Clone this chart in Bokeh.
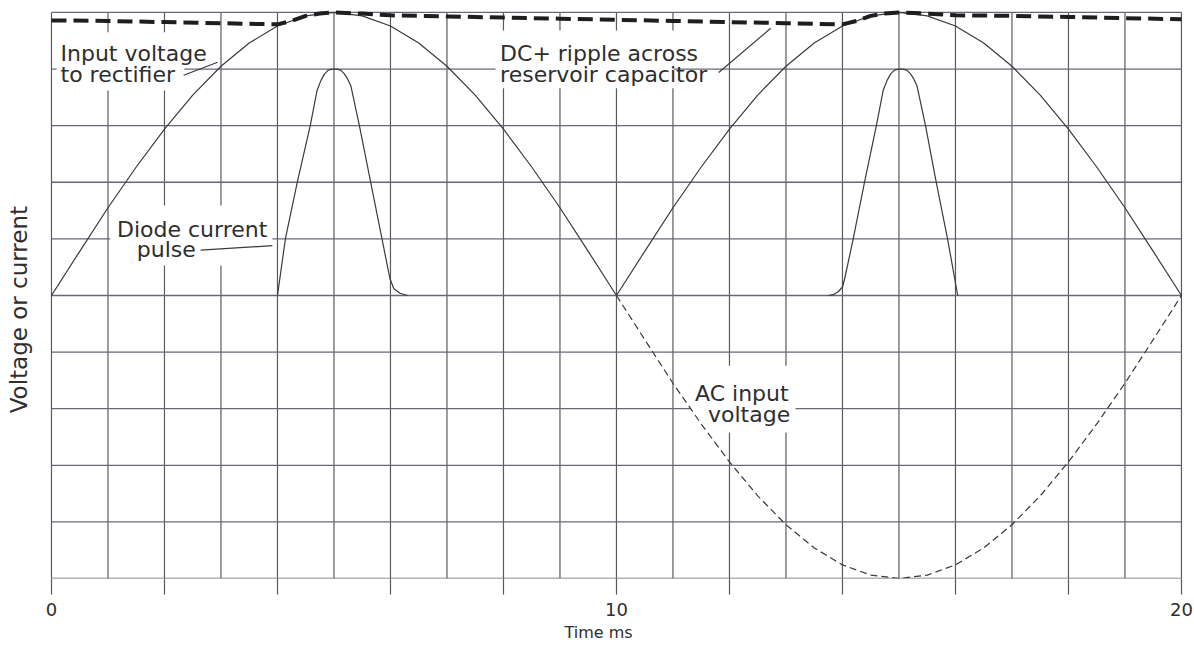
import math
from bokeh.plotting import figure
from bokeh.models import Range1d, FixedTicker, Label, BoxAnnotation
from bokeh.embed import file_html
from bokeh.resources import INLINE

# ---------------- data ----------------
# time axis (ms) for the rectified input voltage, sampled every 0.5 ms
input_t = [i * 0.5 for i in range(41)]
input_v = [0, 0.78, 1.55, 2.27, 2.94, 3.54, 4.05, 4.46, 4.76, 4.94, 5.0,
           4.94, 4.76, 4.46, 4.05, 3.54, 2.94, 2.27, 1.55, 0.78, 0,
           0.78, 1.55, 2.27, 2.94, 3.54, 4.05, 4.46, 4.76, 4.94, 5.0,
           4.94, 4.76, 4.46, 4.05, 3.54, 2.94, 2.27, 1.55, 0.78, 0]

# negative half of the AC input (dashed), 10..20 ms
ac_t = [10 + i * 0.5 for i in range(21)]
ac_v = [0, -0.78, -1.55, -2.27, -2.94, -3.54, -4.05, -4.46, -4.76, -4.94, -5.0,
        -4.94, -4.76, -4.46, -4.05, -3.54, -2.94, -2.27, -1.55, -0.78, 0]

# DC + ripple across reservoir capacitor (thick dashed)
dc_t = [0, 1, 2, 3, 4, 4.25, 4.5, 4.75, 5, 5.5, 6, 7, 8, 9, 10, 11, 12, 13, 14,
        14.25, 14.5, 14.75, 15, 15.5, 16, 17, 18, 19, 20]
dc_v = [4.86, 4.85, 4.83, 4.81, 4.79, 4.85, 4.94, 4.98, 5.0, 4.98, 4.95, 4.93,
        4.91, 4.89, 4.87, 4.85, 4.83, 4.81, 4.79, 4.85, 4.94, 4.98, 5.0, 4.98,
        4.95, 4.94, 4.92, 4.90, 4.88]

# diode current pulses
pulse1_t = [4.0, 4.14, 4.35, 4.58, 4.70, 4.77, 4.83, 4.90, 4.97, 5.05, 5.12,
            5.18, 5.24, 5.30, 5.45, 5.65, 5.85, 5.99, 6.06, 6.17, 6.30]
pulse1_v = [0, 1, 2, 3, 3.62, 3.80, 3.91, 3.98, 4.0, 4.0, 3.98,
            3.92, 3.83, 3.70, 3.0, 2.0, 1.0, 0.30, 0.12, 0.04, 0]
pulse2_t = [13.75, 13.85, 13.93, 14.0, 14.04, 14.19, 14.39, 14.60, 14.72, 14.79,
            14.85, 14.92, 14.99, 15.07, 15.14, 15.20, 15.26, 15.32, 15.47, 15.66,
            15.86, 16.04]
pulse2_v = [0, 0.02, 0.07, 0.15, 0.30, 1, 2, 3, 3.62, 3.80,
            3.91, 3.98, 4.0, 4.0, 3.98, 3.92, 3.83, 3.70, 3.0, 2.0,
            1.0, 0]

# grid and axis ticks
grid_x = list(range(0, 21))
grid_y = list(range(-5, 6))
tick_x = list(range(0, 21, 2))
tick_labels = {0: "0", 10: "10", 20: "20"}

# annotation texts: (text, x, y)  -- left/baseline anchor, data units
notes = [("Input voltage", 0.16, 4.27), ("to rectifier", 0.16, 3.90),
         ("DC+ ripple across", 7.94, 4.27), ("reservoir capacitor", 7.94, 3.90),
         ("Diode current", 1.16, 1.16), ("pulse", 1.51, 0.81),
         ("AC input", 11.39, -1.74), ("voltage", 11.62, -2.11)]
# white areas behind the annotation texts: left, right, top, bottom
note_boxes = [(0.09, 2.35, 4.65, 3.62), (7.86, 11.02, 4.68, 3.66),
              (1.04, 3.91, 1.59, 0.53), (11.31, 13.17, -1.24, -2.42)]
# leader lines: x0, y0, x1, y1
lead_x0 = [2.34, 11.81, 2.64]
lead_y0 = [3.89, 3.94, 0.80]
lead_x1 = [2.94, 12.73, 3.91]
lead_y1 = [4.12, 4.72, 0.88]

# ---------------- figure ----------------
FONT = "DejaVu Sans"
TXT = "#2e2e2e"

p = figure(width=1194, height=645, output_backend="svg", toolbar_location=None,
           x_range=Range1d(-0.796, 20.16), y_range=Range1d(-5.0, 5.07),
           min_border_left=6, min_border_right=4, min_border_top=8,
           min_border_bottom=67)
p.outline_line_color = None
p.grid.visible = False
p.yaxis.visible = False
p.background_fill_color = "white"
p.border_fill_color = "white"

# grid lines
p.segment(x0=grid_x, y0=[-5] * len(grid_x), x1=grid_x, y1=[5] * len(grid_x),
          line_color="#5a5a5a", line_width=1.2, level="image")
p.segment(x0=[0] * len(grid_y), y0=grid_y, x1=[20] * len(grid_y), y1=grid_y,
          line_color="#6c6478", line_width=1.3, level="image")

# white boxes that interrupt the grid behind the notes
for l, r, t, b in note_boxes:
    p.add_layout(BoxAnnotation(left=l, right=r, top=t, bottom=b, fill_color="white",
                               fill_alpha=1.0, line_color=None, level="underlay"))

# curves
p.line(input_t, input_v, line_color="#3a3a3a", line_width=1.2)
p.line(ac_t, ac_v, line_color="#3a3a3a", line_width=1.2, line_dash="7 4")
p.line(pulse1_t, pulse1_v, line_color="#3a3a3a", line_width=1.2)
p.line(pulse2_t, pulse2_v, line_color="#3a3a3a", line_width=1.2)
p.line(dc_t, dc_v, line_color="#1e1e1e", line_width=4, line_dash="15 7")

# leader lines
p.segment(x0=lead_x0, y0=lead_y0, x1=lead_x1, y1=lead_y1,
          line_color="#3a3a3a", line_width=1.2)

# x axis: ticks every 2 ms, labels at 0, 10, 20
ax = p.xaxis[0]
ax.ticker = FixedTicker(ticks=tick_x)
ax.major_label_overrides = {k: tick_labels.get(k, "") for k in tick_x}
ax.axis_line_color = None
ax.major_tick_in = 0
ax.major_tick_out = 16
ax.major_tick_line_color = "#5a5a5a"
ax.major_tick_line_width = 1.2
ax.minor_tick_line_color = None
ax.major_label_standoff = 8
ax.major_label_text_font = FONT
ax.major_label_text_font_size = "18px"
ax.major_label_text_color = TXT
ax.axis_label = "Time ms"
ax.axis_label_text_font = FONT
ax.axis_label_text_font_size = "16px"
ax.axis_label_text_font_style = "normal"
ax.axis_label_text_color = TXT
ax.axis_label_standoff = 4

# annotation texts
for text, x, y in notes:
    p.add_layout(Label(x=x, y=y, text=text, text_font=FONT, text_font_size="22px",
                       text_color=TXT, text_align="left", text_baseline="alphabetic"))

# vertical axis title (inside the frame, left of the grid)
p.add_layout(Label(x=-0.58, y=-0.25, text="Voltage or current", text_font=FONT,
                   text_font_size="23px", text_color=TXT, text_align="center",
                   text_baseline="middle", angle=math.pi / 2))

open("out.html", "w").write(file_html(p, INLINE))
